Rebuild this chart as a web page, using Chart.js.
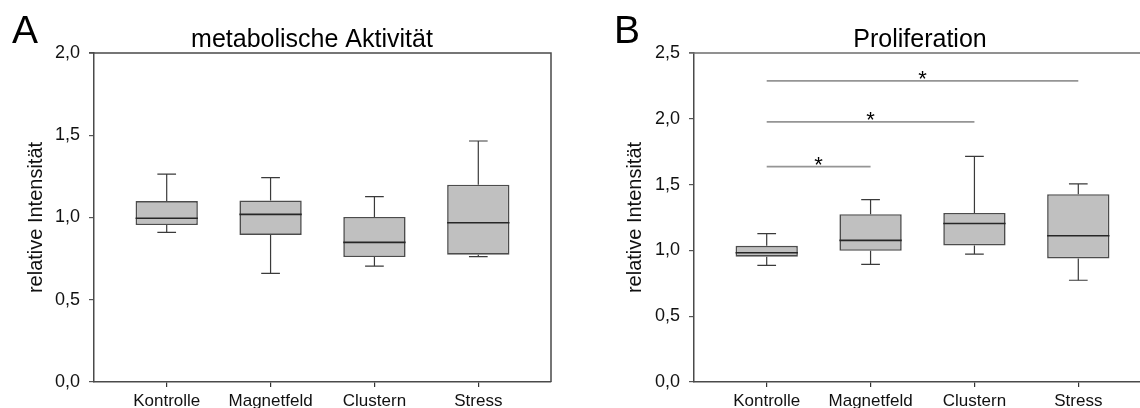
<!DOCTYPE html>
<html>
<head>
<meta charset="utf-8">
<script src="https://cdn.jsdelivr.net/npm/chart.js@4.4.1/dist/chart.umd.min.js"></script>
<style>
  html, body { margin: 0; padding: 0; background: #fff; }
  body { width: 1140px; height: 408px; overflow: hidden; position: relative; }
  .panel { position: absolute; top: 0; height: 408px; }
  #wrapA { left: 0; width: 570px; }
  #wrapB { left: 570px; width: 600px; }
</style>
</head>
<body>
<div class="panel" id="wrapA"><canvas id="chartA" width="570" height="408"></canvas></div>
<div class="panel" id="wrapB"><canvas id="chartB" width="600" height="408"></canvas></div>
<script>
// ── Daten ──
const categories = ['Kontrolle', 'Magnetfeld', 'Clustern', 'Stress'];

// A: metabolische Aktivität
const metMin = [0.91, 0.66, 0.705, 0.762];
const metQ1  = [0.954, 0.894, 0.76, 0.774];
const metMed = [0.995, 1.019, 0.849, 0.968];
const metQ3  = [1.10, 1.104, 1.003, 1.199];
const metMax = [1.264, 1.242, 1.127, 1.465];
const metTicks = [0, 0.5, 1.0, 1.5, 2.0];

// B: Proliferation
const proMin = [0.886, 0.894, 0.972, 0.773];
const proQ1  = [0.952, 0.997, 1.038, 0.939];
const proMed = [0.982, 1.076, 1.204, 1.111];
const proQ3  = [1.035, 1.275, 1.285, 1.427];
const proMax = [1.127, 1.386, 1.714, 1.505];
const proTicks = [0, 0.5, 1.0, 1.5, 2.0, 2.5];

// Signifikanz-Balken (B)
const sigFrom  = [0, 0, 0];
const sigTo    = [1, 2, 3];
const sigLevel = [1.636, 1.977, 2.288];
const sigMark  = ['*', '*', '*'];

// ── Stil ──
const FONT = '"Liberation Sans", Arial, Helvetica, sans-serif';
const BOX_W = 0.6;     // Boxbreite in Kategorie-Einheiten
const CAP_W = 0.09;    // halbe Breite der Whisker-Enden
const AXIS_COLOR = '#4a4a4a';

Chart.defaults.font.family = FONT;
Chart.defaults.color = '#111';

function fmt(v) { return v.toFixed(1).replace('.', ','); }

// Rahmen oben + rechts
const framePlugin = {
  id: 'frame',
  beforeDatasetsDraw(chart) {
    const { ctx, chartArea: a } = chart;
    ctx.save();
    ctx.strokeStyle = chart.options.plugins.frame.color || AXIS_COLOR;
    ctx.lineWidth = 1.5;
    ctx.beginPath();
    ctx.moveTo(a.left - 5, a.top);
    ctx.lineTo(a.right, a.top);
    ctx.lineTo(a.right, a.bottom);
    ctx.stroke();
    ctx.restore();
  }
};

// Buchstabe, Titel, Sternchen
const textPlugin = {
  id: 'panelText',
  afterDraw(chart) {
    const o = chart.options.plugins.panelText;
    const { ctx, scales } = chart;
    ctx.save();
    ctx.fillStyle = '#000';
    ctx.textBaseline = 'alphabetic';
    ctx.textAlign = 'left';
    ctx.font = '39px ' + FONT;
    ctx.fillText(o.letter, o.letterX, 43);
    ctx.textAlign = 'center';
    ctx.font = '25px ' + FONT;
    ctx.fillText(o.title, o.titleX, 47);
    if (o.sig) {
      ctx.font = '22px ' + FONT;
      o.sig.forEach(s => {
        const x = (scales.x.getPixelForValue(s.from) + scales.x.getPixelForValue(s.to)) / 2;
        const y = scales.y.getPixelForValue(s.level);
        ctx.fillText(s.mark, x, y + 5);
      });
    }
    ctx.restore();
  }
};

function boxChart(canvasId, d) {
  const boxes = categories.map((c, i) => ({ x: i, y: [d.q1[i], d.q3[i]] }));
  const whisk = [], caps = [], meds = [];
  categories.forEach((c, i) => {
    whisk.push({ x: i, y: d.min[i] }, { x: i, y: d.q1[i] }, { x: i, y: null },
               { x: i, y: d.q3[i] }, { x: i, y: d.max[i] }, { x: i, y: null });
    caps.push({ x: i - CAP_W, y: d.min[i] }, { x: i + CAP_W, y: d.min[i] }, { x: i, y: null },
              { x: i - CAP_W, y: d.max[i] }, { x: i + CAP_W, y: d.max[i] }, { x: i, y: null });
    meds.push({ x: i - BOX_W / 2, y: d.med[i] }, { x: i + BOX_W / 2, y: d.med[i] }, { x: i, y: null });
  });

  const lineDs = (data, color, width, order) => ({
    type: 'line', data, borderColor: color, borderWidth: width,
    pointRadius: 0, spanGaps: false, fill: false, tension: 0, order
  });

  const datasets = [
    { type: 'bar', data: boxes, backgroundColor: '#c0c0c0', borderColor: '#4c4c4c',
      borderWidth: 1.6, borderSkipped: false, barPercentage: BOX_W, categoryPercentage: 1, order: 5 },
    lineDs(whisk, '#3a3a3a', 1.2, 3),
    lineDs(caps, '#3a3a3a', 1.2, 2),
    lineDs(meds, '#262626', 1.6, 1),
  ];

  let sig = null;
  if (d.sig) {
    const sigData = [];
    sigFrom.forEach((f, k) => {
      sigData.push({ x: f, y: sigLevel[k] }, { x: sigTo[k], y: sigLevel[k] }, { x: f, y: null });
    });
    datasets.push(lineDs(sigData, '#959595', 1.8, 4));
    sig = sigFrom.map((f, k) => ({ from: f, to: sigTo[k], level: sigLevel[k], mark: sigMark[k] }));
  }

  return new Chart(document.getElementById(canvasId), {
    type: 'bar',
    data: { datasets },
    options: {
      responsive: false,
      animation: false,
      layout: { padding: { left: 0, right: 19, top: 53, bottom: 0 } },
      plugins: {
        legend: { display: false },
        tooltip: { enabled: false },
        frame: { color: d.frameColor },
        panelText: { letter: d.letter, letterX: d.letterX, title: d.title, titleX: d.titleX, sig }
      },
      scales: {
        x: {
          type: 'linear', min: -0.7, max: 3.7, offset: false,
          afterBuildTicks: s => { s.ticks = categories.map((c, i) => ({ value: i })); },
          afterFit: s => { s.height = 26; },
          ticks: { callback: v => categories[v], autoSkip: false, maxRotation: 0,
                   font: { size: 17 }, color: '#111', padding: 4 },
          grid: { offset: false, drawOnChartArea: false, drawTicks: true, tickLength: 5,
                  color: '#333', lineWidth: 1.2 },
          border: { display: true, color: AXIS_COLOR, width: 1.5 }
        },
        y: {
          min: 0, max: d.ticks[d.ticks.length - 1],
          afterBuildTicks: s => { s.ticks = d.ticks.map(v => ({ value: v })); },
          afterFit: s => { s.width = d.axisW; },
          ticks: { callback: v => fmt(v), font: { size: 18 }, color: '#111', padding: 9 },
          grid: { drawOnChartArea: false, drawTicks: true, tickLength: 5, color: '#555', lineWidth: 1.2 },
          border: { display: true, color: AXIS_COLOR, width: 1.5 },
          title: { display: true, text: 'relative Intensität', font: { size: 20 },
                   color: '#111', padding: { top: d.labelPad, bottom: 0 } }
        }
      }
    },
    plugins: [framePlugin, textPlugin]
  });
}

boxChart('chartA', {
  min: metMin, q1: metQ1, med: metMed, q3: metQ3, max: metMax, ticks: metTicks,
  letter: 'A', letterX: 12, title: 'metabolische Aktivität', titleX: 312,
  axisW: 94, labelPad: 24, frameColor: '#4a4a4a', sig: false
});

boxChart('chartB', {
  min: proMin, q1: proQ1, med: proMed, q3: proQ3, max: proMax, ticks: proTicks,
  letter: 'B', letterX: 44, title: 'Proliferation', titleX: 350,
  axisW: 124, labelPad: 53, frameColor: '#6e6e6e', sig: true
});
</script>
</body>
</html>
